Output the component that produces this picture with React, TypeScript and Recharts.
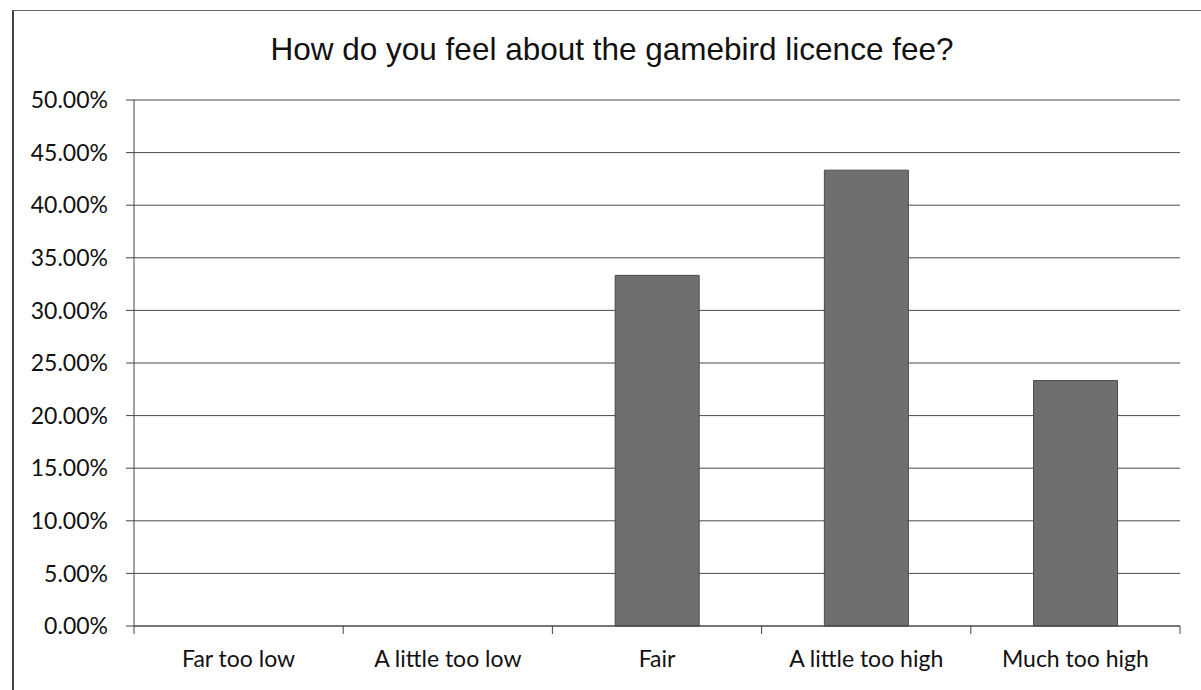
import React from "react";
import { BarChart, Bar, XAxis, YAxis, CartesianGrid } from "recharts";

// Survey answers and the share of respondents for each
const categories = ["Far too low", "A little too low", "Fair", "A little too high", "Much too high"];
const shares = [0, 0, 33.33, 43.33, 23.33];
const yTicks = [0, 5, 10, 15, 20, 25, 30, 35, 40, 45, 50];

const data = categories.map((name, i) => ({ name, value: shares[i] }));

const labelFont = "Lato, 'Open Sans', sans-serif";
const X_TICK_SIZE = 8;
const X_TICK_MARGIN = 17;

// Category label with tick marks placed on the band boundaries
function CategoryTick(props: any) {
  const { x, y, payload, index, visibleTicksCount } = props;
  const half = payload?.offset ?? 0;
  const axisY = y - X_TICK_SIZE - X_TICK_MARGIN;
  const isLast = index === (visibleTicksCount ?? categories.length) - 1;
  return (
    <g>
      <line x1={x - half} x2={x - half} y1={axisY} y2={axisY + X_TICK_SIZE} stroke="#444" />
      {isLast && <line x1={x + half} x2={x + half} y1={axisY} y2={axisY + X_TICK_SIZE} stroke="#444" />}
      <text x={x} y={y} dy="0.71em" textAnchor="middle" fill="#111" fontSize={23} fontFamily={labelFont}>
        {payload.value}
      </text>
    </g>
  );
}

export default function App() {
  return (
    <div style={{ position: "absolute", left: 0, top: 0, width: 1201, height: 690, background: "#fff", overflow: "hidden" }}>
      <div
        style={{
          position: "absolute",
          left: 12,
          top: 10,
          width: 1200,
          height: 700,
          borderLeft: "2px solid #444",
          borderTop: "1px solid #666",
        }}
      />
      <div
        style={{
          position: "absolute",
          left: 0,
          width: 1224,
          top: 30,
          textAlign: "center",
          fontFamily: "'Liberation Sans', Arial, sans-serif",
          fontSize: 31.5,
          color: "#111",
          lineHeight: "38px",
        }}
      >
        How do you feel about the gamebird licence fee?
      </div>
      <div style={{ position: "absolute", left: 0, top: 0 }}>
        <BarChart
          width={1201}
          height={690}
          data={data}
          margin={{ top: 100, right: 21, bottom: 0, left: 0 }}
          barCategoryGap="30%"
        >
          <CartesianGrid vertical={false} stroke="#4a4a4a" strokeWidth={1} />
          <XAxis
            dataKey="name"
            height={64}
            axisLine={{ stroke: "#444" }}
            tickLine={{ stroke: "transparent" }}
            tickSize={X_TICK_SIZE}
            tickMargin={X_TICK_MARGIN}
            interval={0}
            tick={<CategoryTick />}
          />
          <YAxis
            width={134}
            domain={[0, 50]}
            ticks={yTicks}
            interval={0}
            tickFormatter={(v: number) => `${v.toFixed(2)}%`}
            axisLine={{ stroke: "#444" }}
            tickLine={{ stroke: "#444" }}
            tickSize={8}
            tickMargin={18}
            tick={{ fill: "#111", fontSize: 23, fontFamily: labelFont }}
          />
          <Bar dataKey="value" fill="#6f6f6f" stroke="#4a4a4a" strokeWidth={1} isAnimationActive={false} />
        </BarChart>
      </div>
    </div>
  );
}
